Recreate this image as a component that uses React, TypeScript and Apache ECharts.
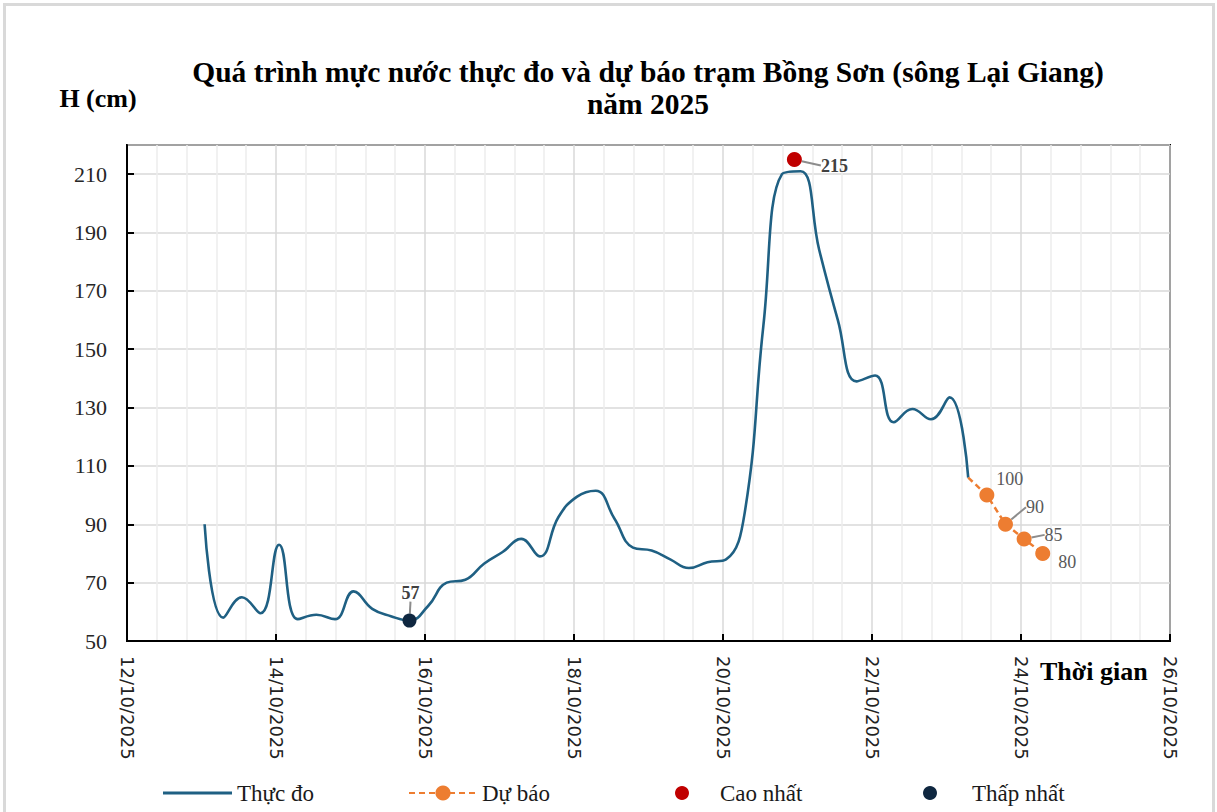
import React, { useEffect, useRef } from 'react';
import * as echarts from 'echarts';

// ---- Data ----
const obsTimes = [
  '2025-10-13 01:00', '2025-10-13 07:00', '2025-10-13 13:00', '2025-10-13 19:00',
  '2025-10-14 01:00', '2025-10-14 07:00', '2025-10-14 13:00', '2025-10-14 19:00',
  '2025-10-15 01:00', '2025-10-15 07:00', '2025-10-15 13:00', '2025-10-15 19:00',
  '2025-10-16 01:00', '2025-10-16 07:00', '2025-10-16 13:00', '2025-10-16 19:00',
  '2025-10-17 01:00', '2025-10-17 07:00', '2025-10-17 13:00', '2025-10-17 19:00',
  '2025-10-18 01:00', '2025-10-18 07:00', '2025-10-18 13:00', '2025-10-18 19:00',
  '2025-10-19 01:00', '2025-10-19 07:00', '2025-10-19 13:00', '2025-10-19 19:00',
  '2025-10-20 01:00', '2025-10-20 07:00', '2025-10-20 13:00', '2025-10-20 19:00',
  '2025-10-21 01:00', '2025-10-21 07:00', '2025-10-21 13:00', '2025-10-21 19:00',
  '2025-10-22 01:00', '2025-10-22 07:00', '2025-10-22 13:00', '2025-10-22 19:00',
  '2025-10-23 01:00', '2025-10-23 07:00',
];
const obsValues = [
  90, 58, 65, 59.5,
  83, 57.5, 59, 57.5,
  67, 61, 58.5, 57,
  62, 70, 71, 76.5,
  80.5, 85, 79, 92.5,
  99.5, 101.5, 92, 82,
  81, 78, 75, 77,
  78, 94, 158, 210,
  211, 184, 160, 139,
  141, 125, 129.5, 126,
  133.5, 106,
];
const fcTimes = ['2025-10-23 07:00', '2025-10-23 13:00', '2025-10-23 19:00', '2025-10-24 01:00', '2025-10-24 07:00'];
const fcValues = [106, 100, 90, 85, 80];
const maxTime = '2025-10-20 23:00';
const maxValue = 215;
const minTime = '2025-10-15 19:00';
const minValue = 57;
const xStart = '2025-10-12 00:00';
const xEnd = '2025-10-26 00:00';
const yMin = 50;
const yMax = 220;
const yStep = 20;

const seriesNames = ['Thực đo', 'Dự báo', 'Cao nhất', 'Thấp nhất'];
const titleText = 'Quá trình mực nước thực đo và dự báo trạm Bồng Sơn (sông Lại Giang)\nnăm 2025';
const xAxisTitle = 'Thời gian';
const yAxisTitle = 'H (cm)';

// label offsets for forecast labels (dx, dy) and leader lines
const fcLabelShift = [[0, 0], [-3, -16], [8, -17], [8, -4], [3, 9]];
const fcLabelLine = [false, false, true, true, false];

function toMs(s: string): number {
  const [d, t] = s.split(' ');
  const [y, m, dd] = d.split('-').map(Number);
  const [h, mi] = t.split(':').map(Number);
  return Date.UTC(y, m - 1, dd, h, mi);
}
function pad(n: number) { return n < 10 ? '0' + n : '' + n; }
function fmtDate(v: number) {
  const d = new Date(v);
  return pad(d.getUTCDate()) + '/' + pad(d.getUTCMonth() + 1) + '/' + d.getUTCFullYear();
}

const SERIF = 'Liberation Serif';

export default function App() {
  const ref = useRef<HTMLDivElement>(null);
  useEffect(() => {
    if (!ref.current) return;
    const chart = echarts.init(ref.current, undefined, { renderer: 'svg' });
    const obsData = obsTimes.map((t, i) => [toMs(t), obsValues[i]]);
    const fcData = fcTimes.map((t, i) => {
      if (i === 0) return { value: [toMs(t), fcValues[i]], symbol: 'none', label: { show: false } };
      return { value: [toMs(t), fcValues[i]], labelLine: { show: fcLabelLine[i] } };
    });
    const legendBase = {
      orient: 'horizontal',
      top: 775,
      itemGap: 10,
      textStyle: { fontFamily: SERIF, fontSize: 23, lineHeight: 26, color: '#1a1a1a' },
    };
    const option: any = {
      animation: false,
      backgroundColor: '#ffffff',
      title: {
        text: titleText,
        left: 648,
        top: 56,
        textAlign: 'center',
        padding: 0,
        textStyle: { fontFamily: SERIF, fontWeight: 'bold', fontSize: 29.5, lineHeight: 32, color: '#000' },
      },
      legend: [
        { ...legendBase, left: 158, itemWidth: 69, itemHeight: 3, data: [{ name: seriesNames[0], icon: 'rect' }] },
        { ...legendBase, left: 403, itemWidth: 68, itemHeight: 19, data: [seriesNames[1]] },
        {
          ...legendBase, left: 670, itemWidth: 14, itemHeight: 14,
          textStyle: { ...legendBase.textStyle, padding: [0, 0, 0, 26] },
          data: [{ name: seriesNames[2], icon: 'circle' }],
        },
        {
          ...legendBase, left: 918, itemWidth: 14, itemHeight: 14,
          textStyle: { ...legendBase.textStyle, padding: [0, 0, 0, 30] },
          data: [{ name: seriesNames[3], icon: 'circle' }],
        },
      ],
      graphic: [
        {
          type: 'rect',
          shape: { x: 4.5, y: 4.5, width: 1209, height: 840 },
          style: { fill: 'none', stroke: '#d9d9d9', lineWidth: 3 },
          silent: true,
        },
        {
          type: 'text',
          x: 1040,
          y: 671,
          style: {
            text: xAxisTitle,
            fontFamily: SERIF, fontWeight: 'bold', fontSize: 26, fill: '#000',
            align: 'left', verticalAlign: 'middle',
          },
          z: 10,
        },
      ],
      grid: {
        left: 127, right: 47, top: 145, bottom: 171,
        show: true, borderColor: '#000', borderWidth: 2, backgroundColor: 'transparent',
      },
      xAxis: {
        type: 'value',
        min: toMs(xStart),
        max: toMs(xEnd),
        interval: 2 * 86400000,
        axisLine: { show: true, lineStyle: { color: '#000', width: 2 } },
        axisTick: { show: true, inside: true, length: 7, lineStyle: { color: '#000', width: 2 } },
        minorTick: { show: false, splitNumber: 5 },
        splitLine: { show: true, lineStyle: { color: '#d9d9d9', width: 1.5 } },
        minorSplitLine: { show: true, lineStyle: { color: '#ececec', width: 1.5 } },
        axisLabel: {
          rotate: -90,
          margin: 15,
          fontFamily: 'DejaVu Sans',
          fontSize: 18,
          color: '#222',
          formatter: (v: number) => fmtDate(v),
          showMinLabel: true,
          showMaxLabel: true,
        },
      },
      yAxis: {
        type: 'value',
        min: yMin,
        max: yMax,
        interval: yStep,
        name: yAxisTitle,
        nameLocation: 'end',
        nameGap: 34,
        nameTextStyle: {
          fontFamily: SERIF, fontWeight: 'bold', fontSize: 26, color: '#000',
          align: 'center', padding: [0, 58, 0, 0],
        },
        axisLine: { show: true, lineStyle: { color: '#000', width: 2 } },
        axisTick: { show: true, inside: true, length: 7, lineStyle: { color: '#000', width: 2 } },
        splitLine: { show: true, lineStyle: { color: '#d9d9d9', width: 1.5 } },
        axisLabel: {
          margin: 20,
          fontFamily: SERIF,
          fontSize: 22,
          color: '#262626',
          showMaxLabel: false,
        },
      },
      series: [
        {
          name: seriesNames[0],
          type: 'line',
          data: obsData,
          smooth: 0.45,
          symbol: 'none',
          color: '#1f6083',
          lineStyle: { color: '#1f6083', width: 2.6 },
          z: 3,
        },
        {
          name: seriesNames[1],
          type: 'line',
          data: fcData,
          smooth: false,
          symbol: 'circle',
          symbolSize: 15,
          showAllSymbol: true,
          color: '#ed7d31',
          itemStyle: { color: '#ed7d31', opacity: 1 },
          lineStyle: { color: '#ed7d31', width: 2.5, type: [6, 4] },
          label: {
            show: true,
            position: 'right',
            distance: 5,
            fontFamily: SERIF,
            fontSize: 18,
            color: '#595959',
            formatter: (p: any) => '' + p.value[1],
          },
          labelLine: { show: false, lineStyle: { color: '#8c8c8c', width: 2 } },
          labelLayout: (p: any) => {
            const s = fcLabelShift[p.dataIndex] || [0, 0];
            return { dx: s[0], dy: s[1] };
          },
          z: 4,
        },
        {
          name: seriesNames[2],
          type: 'scatter',
          data: [[toMs(maxTime), maxValue]],
          symbol: 'circle',
          symbolSize: 15,
          itemStyle: { color: '#c00000', opacity: 1 },
          color: '#c00000',
          label: {
            show: true,
            position: 'right',
            distance: 5,
            fontFamily: SERIF,
            fontSize: 18,
            fontWeight: 'bold',
            color: '#404040',
            formatter: (p: any) => '' + p.value[1],
          },
          labelLine: { show: true, lineStyle: { color: '#8c8c8c', width: 2 } },
          labelLayout: { dx: 14, dy: 6 },
          z: 5,
        },
        {
          name: seriesNames[3],
          type: 'scatter',
          data: [[toMs(minTime), minValue]],
          symbol: 'circle',
          symbolSize: 14,
          itemStyle: { color: '#0f2740', opacity: 1 },
          color: '#0f2740',
          label: {
            show: true,
            position: 'top',
            distance: 5,
            fontFamily: SERIF,
            fontSize: 18,
            fontWeight: 'bold',
            color: '#404040',
            formatter: (p: any) => '' + p.value[1],
          },
          labelLine: { show: true, lineStyle: { color: '#8c8c8c', width: 2 } },
          labelLayout: { dx: 1, dy: -7 },
          z: 5,
        },
      ],
    };
    chart.setOption(option);
    return () => chart.dispose();
  }, []);
  return (
    <div
      ref={ref}
      style={{ position: 'fixed', left: 0, top: 0, width: 1217, height: 812, background: '#fff' }}
    />
  );
}
